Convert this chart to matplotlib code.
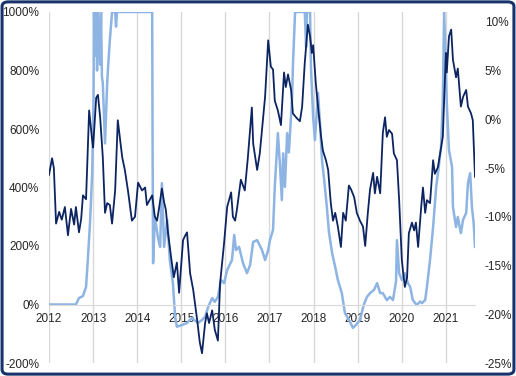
import matplotlib
matplotlib.use("Agg")
import matplotlib.pyplot as plt
from matplotlib.patches import FancyBboxPatch

plt.rcParams['font.family'] = ['Liberation Sans', 'DejaVu Sans']

# light blue series, left axis (%)
light_years = [2012.00, 2012.61, 2012.68, 2012.77, 2012.84, 2012.88, 2012.93, 2012.98, 2013.01,
               2013.02, 2013.04, 2013.07, 2013.09, 2013.11, 2013.16, 2013.18, 2013.20, 2013.22,
               2013.27, 2013.32, 2013.34, 2013.38, 2013.43, 2013.50, 2013.52, 2013.54, 2014.34,
               2014.35, 2014.36, 2014.40, 2014.47, 2014.52, 2014.56, 2014.61, 2014.68, 2014.74,
               2014.81, 2014.86, 2014.90, 2015.02, 2015.13, 2015.24, 2015.31, 2015.38, 2015.47,
               2015.54, 2015.61, 2015.70, 2015.76, 2015.83, 2015.90, 2015.97, 2016.04, 2016.15,
               2016.20, 2016.24, 2016.31, 2016.40, 2016.49, 2016.56, 2016.63, 2016.72, 2016.83,
               2016.90, 2016.97, 2017.01, 2017.08, 2017.12, 2017.19, 2017.24, 2017.28, 2017.31,
               2017.35, 2017.40, 2017.44, 2017.51, 2017.53, 2017.58, 2017.80, 2017.83, 2017.85,
               2017.92, 2017.94, 2017.99, 2018.03, 2018.07, 2018.10, 2018.15, 2018.19, 2018.24,
               2018.30, 2018.35, 2018.42, 2018.49, 2018.55, 2018.64, 2018.71, 2018.76, 2018.83,
               2018.89, 2018.96, 2019.05, 2019.14, 2019.21, 2019.28, 2019.37, 2019.44, 2019.51,
               2019.57, 2019.66, 2019.73, 2019.80, 2019.87, 2019.89, 2019.94, 2020.00, 2020.07,
               2020.14, 2020.19, 2020.25, 2020.34, 2020.41, 2020.46, 2020.53, 2020.57, 2020.64,
               2020.71, 2020.78, 2020.82, 2020.89, 2020.93, 2020.96, 2021.00, 2021.02, 2021.07,
               2021.14, 2021.16, 2021.23, 2021.27, 2021.34, 2021.39, 2021.46, 2021.50, 2021.55,
               2021.59, 2021.63, 2021.66]
light_vals = [0, 0, 22, 29, 60, 152, 279, 450, 700,
              1000, 850, 1000, 800, 1000, 820, 1000, 780, 757,
              551, 757, 812, 904, 1000, 1000, 950, 1000, 1000,
              505, 141, 299, 230, 197, 415, 197, 290, 152,
              73, -42, -76, -70, -63, -46, -55, -63, -53,
              -42, -8, 22, 9, 26, 84, 73, 118, 152,
              238, 186, 197, 141, 107, 135, 214, 220, 186,
              152, 186, 220, 255, 402, 586, 470, 357, 517,
              402, 586, 520, 699, 812, 1000, 1000, 880, 1000,
              1000, 812, 641, 562, 650, 723, 607, 494, 426,
              334, 245, 176, 128, 84, 39, -29, -42, -60,
              -80, -70, -53, 0, 26, 39, 50, 73, 39,
              39, 15, 26, 15, 80, 220, 107, 84, 107,
              73, 60, 15, -2, 10, 5, 15, 60, 152,
              265, 402, 449, 539, 699, 1000, 812, 689, 528,
              470, 334, 265, 299, 244, 290, 313, 415, 449,
              334, 278, 197]

# dark blue series, right axis (%)
dark_years = [2012.00, 2012.07, 2012.11, 2012.16, 2012.23, 2012.29, 2012.36, 2012.43, 2012.50,
              2012.57, 2012.61, 2012.68, 2012.73, 2012.77, 2012.84, 2012.91, 2012.98, 2013.00,
              2013.07, 2013.11, 2013.16, 2013.22, 2013.27, 2013.32, 2013.38, 2013.43, 2013.50,
              2013.56, 2013.66, 2013.72, 2013.79, 2013.88, 2013.95, 2014.02, 2014.11, 2014.18,
              2014.22, 2014.34, 2014.40, 2014.45, 2014.49, 2014.56, 2014.61, 2014.65, 2014.70,
              2014.77, 2014.83, 2014.90, 2014.95, 2015.04, 2015.08, 2015.13, 2015.20, 2015.27,
              2015.36, 2015.42, 2015.47, 2015.54, 2015.58, 2015.63, 2015.70, 2015.76, 2015.83,
              2015.88, 2015.97, 2016.04, 2016.13, 2016.17, 2016.22, 2016.26, 2016.35, 2016.44,
              2016.51, 2016.60, 2016.63, 2016.72, 2016.78, 2016.90, 2016.97, 2017.03, 2017.08,
              2017.12, 2017.19, 2017.26, 2017.33, 2017.37, 2017.42, 2017.49, 2017.53, 2017.62,
              2017.69, 2017.74, 2017.80, 2017.87, 2017.92, 2017.96, 2017.99, 2018.05, 2018.10,
              2018.17, 2018.21, 2018.28, 2018.33, 2018.39, 2018.44, 2018.49, 2018.55, 2018.62,
              2018.67, 2018.73, 2018.80, 2018.85, 2018.92, 2018.98, 2019.05, 2019.12, 2019.17,
              2019.23, 2019.28, 2019.35, 2019.39, 2019.44, 2019.51, 2019.57, 2019.62, 2019.66,
              2019.71, 2019.78, 2019.82, 2019.89, 2019.94, 2020.00, 2020.03, 2020.07, 2020.12,
              2020.16, 2020.23, 2020.28, 2020.32, 2020.37, 2020.44, 2020.48, 2020.53, 2020.57,
              2020.64, 2020.71, 2020.75, 2020.82, 2020.89, 2020.93, 2020.96, 2021.00, 2021.02,
              2021.07, 2021.12, 2021.16, 2021.23, 2021.27, 2021.34, 2021.39, 2021.46, 2021.50,
              2021.57, 2021.61, 2021.66]
dark_vals = [-5.7, -4.0, -5.0, -10.7, -9.5, -10.3, -9.0, -11.9, -9.2,
             -10.8, -9.0, -11.6, -10.2, -7.8, -8.2, 0.9, -2.2, -2.9,
             2.2, 2.5, 0.2, -3.9, -9.6, -8.6, -8.8, -10.7, -7.3,
             -0.1, -3.9, -5.2, -7.3, -10.4, -10.0, -6.5, -7.3, -7.0,
             -8.8, -7.8, -10.0, -10.4, -9.3, -7.1, -8.5, -9.3, -11.7,
             -14.2, -16.2, -14.7, -17.8, -12.4, -12.0, -11.6, -15.8, -17.5,
             -20.6, -22.9, -24.0, -20.9, -19.9, -20.9, -19.6, -21.6, -22.7,
             -16.8, -12.7, -9.0, -7.5, -10.0, -10.4, -9.3, -6.2, -7.3,
             -3.9, 1.2, -2.5, -5.2, -3.5, 2.3, 8.1, 5.4, 5.1,
             1.9, 0.9, -0.6, 4.8, 3.3, 4.6, 3.0, 0.6, 0.1,
             -0.2, 1.3, 5.8, 9.7, 8.5, 6.8, 7.6, 3.7, 1.3,
             -1.8, -3.2, -4.2, -5.2, -8.6, -10.4, -9.6, -11.0, -13.1,
             -9.6, -10.4, -6.8, -7.2, -8.0, -9.6, -10.4, -11.0, -13.0,
             -9.6, -7.2, -5.5, -7.6, -5.9, -7.6, -1.4, 0.2, -1.8,
             -1.1, -1.5, -3.5, -4.2, -8.3, -14.4, -15.7, -17.2, -16.2,
             -11.7, -10.6, -11.4, -10.6, -13.1, -9.0, -7.0, -9.6, -8.3,
             -8.6, -4.2, -5.6, -4.9, -2.9, -1.8, 2.0, 6.8, 4.8,
             8.5, 9.2, 6.1, 4.3, 5.2, 1.3, 2.3, 3.0, 1.3,
             0.6, -0.1, -5.9]

year_ticks = list(range(2012, 2022))
left_ticks = [-200, 0, 200, 400, 600, 800, 1000]
right_ticks = [-25, -20, -15, -10, -5, 0, 5, 10]

light_c = '#8DB4E2'
dark_c = '#0C2461'
grid_c = '#D9D9D9'
text_c = '#262626'

fig = plt.figure(figsize=(5.16, 3.76), dpi=100)
ax = fig.add_axes([49 / 516, 1 - 363 / 376, (475 - 49) / 516, (363 - 12) / 376])
ax.plot(light_years, light_vals, color=light_c, lw=1.8)
ax.set_xlim(2012, 2021.66)
ax.set_ylim(-200, 1000)
ax.set_yticks(left_ticks)
ax.set_yticklabels([f'{v}%' for v in left_ticks])
ax.set_xticks(year_ticks)
ax.set_xticklabels([str(y) for y in year_ticks])
ax.grid(axis='x', color=grid_c, lw=1)
ax.set_axisbelow(True)
for s in ['top', 'right', 'left']:
    ax.spines[s].set_visible(False)
ax.spines['bottom'].set_position(('data', 0))
ax.spines['bottom'].set_color(grid_c)
ax.tick_params(axis='x', length=0, pad=6, labelsize=8.5, colors=text_c)
ax.tick_params(axis='y', length=0, pad=7, labelsize=8.5, colors=text_c)

ax2 = ax.twinx()
ax2.plot(dark_years, dark_vals, color=dark_c, lw=1.3)
ax2.set_ylim(-25, 11)
ax2.set_yticks(right_ticks)
ax2.set_yticklabels([f'{v}%' for v in right_ticks])
for s in ax2.spines.values():
    s.set_visible(False)
ax2.tick_params(axis='y', length=0, pad=7, labelsize=8.5, colors=text_c)

frame = FancyBboxPatch((0.004, 0.005), 0.992, 0.99, boxstyle='round,pad=0,rounding_size=0.012',
                       transform=fig.transFigure, fill=False, edgecolor='#17336B', lw=2.2)
fig.patches.append(frame)

fig.savefig('out.png', dpi=100)
